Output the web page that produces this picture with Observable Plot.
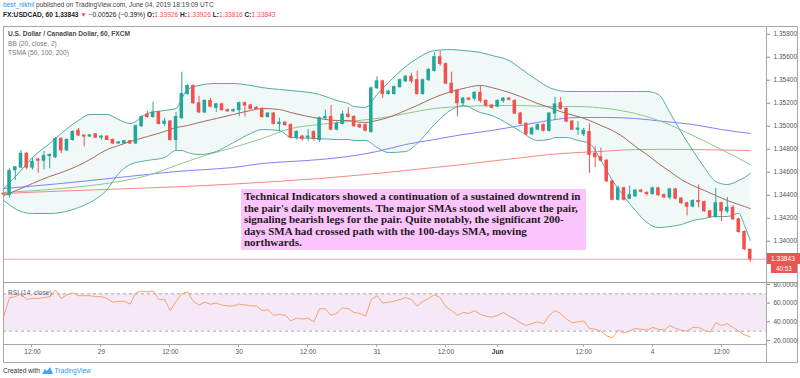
<!DOCTYPE html>
<html><head><meta charset="utf-8">
<script src="https://cdn.jsdelivr.net/npm/d3@7"></script>
<script src="https://cdn.jsdelivr.net/npm/@observablehq/plot@0.6"></script>
<style>
body{margin:0;background:#fff;font-family:"Liberation Sans",Arial,sans-serif;}
#wrap{position:relative;width:800px;height:378px;overflow:hidden;background:#fff;}
.abs{position:absolute;white-space:nowrap;}
.r{color:#ef5350;}
.line{position:absolute;background:#a8a8a8;}
#note{position:absolute;left:241px;top:189px;width:339px;height:57px;padding:2px 3px;background:#fcc4fc;
 font-family:"Liberation Serif","Times New Roman",serif;font-weight:bold;font-size:11px;line-height:11.6px;color:#1c1c1c;white-space:nowrap;}
</style></head><body><div id="wrap"></div>
<script>
// ---------- data ----------
const opens = [1.34415,1.34400,1.34617,1.34640,1.34760,1.34640,1.34710,1.34700,1.34740,1.34730,
1.34890,1.34790,1.34880,1.34960,1.34920,1.34910,1.34930,1.34900,1.34910,1.34880,
1.34850,1.34850,1.34870,1.34850,1.35000,1.35100,1.35080,1.35120,1.35020,1.35040,
1.34880,1.35070,1.35280,1.35350,1.35200,1.35120,1.35220,1.35160,1.35190,1.35140,
1.35130,1.35140,1.35200,1.35180,1.35160,1.35150,1.35080,1.35110,1.35020,1.35030,
1.35010,1.34900,1.34910,1.34900,1.34950,1.34880,1.35070,1.35080,1.34970,1.35020,
1.35100,1.35080,1.35010,1.35010,1.34950,1.35330,1.35390,1.35280,1.35280,1.35340,
1.35390,1.35430,1.35400,1.35280,1.35400,1.35480,1.35600,1.35540,1.35370,1.35310,
1.35200,1.35240,1.35240,1.35290,1.35220,1.35180,1.35170,1.35220,1.35240,1.35220,
1.35110,1.35020,1.34930,1.34970,1.35010,1.34960,1.35110,1.35200,1.35150,1.35040,
1.34970,1.34930,1.34950,1.34760,1.34730,1.34700,1.34520,1.34360,1.34460,1.34370,
1.34390,1.34440,1.34420,1.34410,1.34460,1.34400,1.34380,1.34450,1.34370,1.34330,
1.34300,1.34350,1.34340,1.34260,1.34210,1.34330,1.34260,1.34290,1.34190,1.34080,
1.33926];
const highs = [1.34420,1.34630,1.34650,1.34790,1.34770,1.34720,1.34720,1.34780,1.34760,1.34900,
1.34900,1.34890,1.34960,1.34980,1.34920,1.34925,1.34935,1.34920,1.34915,1.34890,
1.34865,1.34875,1.34875,1.35010,1.35090,1.35130,1.35210,1.35130,1.35070,1.35050,
1.35120,1.35470,1.35360,1.35360,1.35260,1.35230,1.35240,1.35200,1.35200,1.35150,
1.35150,1.35210,1.35210,1.35190,1.35170,1.35160,1.35120,1.35120,1.35070,1.35040,
1.35020,1.34960,1.34920,1.34970,1.34960,1.35080,1.35140,1.35180,1.35040,1.35130,
1.35160,1.35090,1.35020,1.35020,1.35340,1.35430,1.35400,1.35310,1.35350,1.35410,
1.35440,1.35460,1.35480,1.35410,1.35500,1.35640,1.35650,1.35550,1.35470,1.35320,
1.35250,1.35250,1.35300,1.35350,1.35230,1.35190,1.35230,1.35250,1.35250,1.35230,
1.35120,1.35030,1.34990,1.35020,1.35020,1.35120,1.35250,1.35250,1.35160,1.35050,
1.35040,1.34980,1.35020,1.34820,1.34810,1.34710,1.34530,1.34480,1.34470,1.34480,
1.34450,1.34450,1.34430,1.34470,1.34470,1.34410,1.34460,1.34460,1.34380,1.34340,
1.34360,1.34490,1.34350,1.34270,1.34460,1.34340,1.34380,1.34310,1.34200,1.34090,
1.33926];
const lows = [1.34395,1.34375,1.34528,1.34630,1.34620,1.34620,1.34590,1.34620,1.34630,1.34720,
1.34760,1.34780,1.34870,1.34910,1.34820,1.34905,1.34895,1.34880,1.34875,1.34840,
1.34845,1.34845,1.34840,1.34840,1.34990,1.35070,1.35070,1.35010,1.35000,1.34870,
1.34790,1.35060,1.35270,1.35190,1.35110,1.35110,1.35160,1.35120,1.35130,1.35120,
1.35120,1.35080,1.35080,1.35140,1.35140,1.35070,1.35070,1.35010,1.34950,1.35000,
1.34890,1.34880,1.34870,1.34870,1.34870,1.34860,1.35060,1.34960,1.34960,1.35010,
1.35070,1.34990,1.34980,1.34950,1.34940,1.35320,1.35240,1.35270,1.35270,1.35330,
1.35380,1.35370,1.35270,1.35270,1.35390,1.35470,1.35520,1.35360,1.35280,1.35080,
1.35180,1.35220,1.35220,1.35200,1.35160,1.35150,1.35160,1.35200,1.35220,1.35100,
1.35010,1.34920,1.34920,1.34960,1.34950,1.34950,1.35050,1.35140,1.35030,1.34960,
1.34920,1.34910,1.34590,1.34640,1.34690,1.34510,1.34350,1.34350,1.34350,1.34360,
1.34380,1.34420,1.34390,1.34400,1.34390,1.34370,1.34360,1.34360,1.34320,1.34220,
1.34290,1.34290,1.34250,1.34200,1.34200,1.34170,1.34240,1.34180,1.34070,1.33920,
1.33816];
const closes = [1.34405,1.34612,1.34643,1.34760,1.34640,1.34690,1.34700,1.34740,1.34750,1.34890,
1.34790,1.34880,1.34950,1.34920,1.34910,1.34920,1.34900,1.34910,1.34880,1.34850,
1.34860,1.34870,1.34850,1.35000,1.35080,1.35080,1.35120,1.35020,1.35040,1.34880,
1.35080,1.35280,1.35350,1.35200,1.35120,1.35220,1.35170,1.35190,1.35140,1.35130,
1.35140,1.35200,1.35180,1.35150,1.35150,1.35080,1.35110,1.35020,1.35030,1.35010,
1.34900,1.34950,1.34890,1.34910,1.34890,1.35070,1.35080,1.34970,1.35020,1.35100,
1.35080,1.35000,1.34990,1.34960,1.35330,1.35390,1.35280,1.35300,1.35340,1.35400,
1.35430,1.35390,1.35280,1.35400,1.35490,1.35600,1.35540,1.35370,1.35290,1.35200,
1.35240,1.35230,1.35290,1.35220,1.35180,1.35160,1.35220,1.35240,1.35230,1.35110,
1.35020,1.34930,1.34980,1.35010,1.34960,1.35110,1.35190,1.35150,1.35040,1.34970,
1.34980,1.34960,1.34750,1.34730,1.34700,1.34520,1.34360,1.34460,1.34360,1.34400,
1.34440,1.34430,1.34410,1.34460,1.34400,1.34380,1.34450,1.34370,1.34330,1.34300,
1.34350,1.34340,1.34260,1.34210,1.34330,1.34260,1.34290,1.34190,1.34080,1.33930,
1.33843];

// Bollinger Bands (20, close, 2) at these bar indices
const bandIdx = [0,3,5,8,10,13,15,18,20,22,25,28,30,31,32,34,37,40,43,45,48,50,55,58,60,61,63,65,67,70,72,75,78,80,83,85,88,90,93,95,96,98,100,102,104,106,108,110,112,114,116,118,120,122,124,126,128,129,130];
const bbUpper = [1.34458,1.34615,1.34728,1.34850,1.34937,1.35050,1.35102,1.35102,1.35058,1.35023,1.35110,1.35137,1.35154,1.35241,1.35319,1.35354,1.35371,1.35371,1.35354,1.35336,1.35319,1.35310,1.35276,1.35223,1.35197,1.35171,1.35163,1.35276,1.35380,1.35519,1.35589,1.35658,1.35667,1.35658,1.35641,1.35615,1.35571,1.35502,1.35397,1.35336,1.35319,1.35302,1.35302,1.35302,1.35302,1.35302,1.35302,1.35302,1.35302,1.35276,1.35119,1.34945,1.34789,1.34641,1.34519,1.34493,1.34528,1.34554,1.34589];
const bbLower = [1.34354,1.34258,1.34241,1.34241,1.34250,1.34293,1.34337,1.34450,1.34589,1.34667,1.34702,1.34728,1.34789,1.34789,1.34771,1.34754,1.34780,1.34858,1.34937,1.34971,1.34963,1.34902,1.34893,1.34884,1.34884,1.34876,1.34876,1.34815,1.34771,1.34780,1.34850,1.35015,1.35145,1.35180,1.35119,1.35093,1.35015,1.34954,1.34876,1.34884,1.34902,1.34902,1.34876,1.34850,1.34702,1.34528,1.34389,1.34267,1.34163,1.34119,1.34128,1.34145,1.34180,1.34197,1.34215,1.34215,1.34241,1.34137,1.34006];
const bbBasis = [1.34397,1.34458,1.34502,1.34563,1.34597,1.34658,1.34710,1.34797,1.34832,1.34867,1.34910,1.34954,1.34989,1.34997,1.35006,1.35032,1.35067,1.35102,1.35137,1.35154,1.35145,1.35119,1.35067,1.35050,1.35050,1.35041,1.35032,1.35050,1.35076,1.35137,1.35180,1.35250,1.35302,1.35328,1.35354,1.35336,1.35293,1.35258,1.35197,1.35163,1.35145,1.35110,1.35084,1.35050,1.35006,1.34963,1.34902,1.34823,1.34754,1.34676,1.34606,1.34536,1.34484,1.34441,1.34397,1.34354,1.34319,1.34302,1.34284];

// TSMA (50, 100, 200) at these bar indices
const smaIdx = [0,10,20,25,30,35,40,45,50,55,60,65,70,75,80,85,90,95,100,105,110,115,120,125,130];
const sma50  = [1.34423,1.34458,1.34519,1.34571,1.34658,1.34745,1.34815,1.34893,1.34980,1.35015,1.35041,1.35067,1.35110,1.35154,1.35171,1.35180,1.35180,1.35171,1.35171,1.35154,1.35110,1.35032,1.34919,1.34797,1.34667];
const sma100 = [1.34458,1.34502,1.34554,1.34580,1.34606,1.34623,1.34641,1.34676,1.34693,1.34710,1.34737,1.34780,1.34841,1.34884,1.34928,1.34963,1.35006,1.35050,1.35076,1.35076,1.35067,1.35041,1.35015,1.34971,1.34937];
const sma200 = [1.34415,1.34436,1.34454,1.34463,1.34473,1.34484,1.34497,1.34512,1.34528,1.34545,1.34567,1.34589,1.34615,1.34641,1.34667,1.34697,1.34725,1.34754,1.34771,1.34784,1.34797,1.34799,1.34797,1.34793,1.34789];

// RSI (14, close)
const rsi = [46,66,67,70,64,65,65,66,67,74,65,69,71,68,68,68,67,67,65,61,62,62,59,71,73,72,73,64,64,52,
62,70,72,62,58,61,59,60,58,57,57,59,58,57,57,52,53,47,48,47,41,44,43,44,40,54,54,47,49,55,
54,50,49,46,64,68,60,61,62,64,66,64,57,62,65,69,66,56,52,47,50,49,52,48,46,45,47,50,46,43,
39,36,38,40,38,47,52,49,43,39,40,41,33,32,30,25,23,31,28,30,33,32,31,34,32,31,36,33,31,30,
34,34,31,29,39,36,38,34,30,26,24];
const rsiBand = [{lo: 30, hi: 70}];
const rsiLevels = [30, 70];
const rsiTicks = [20, 40, 60, 80];

const priceTicks = [1.340,1.342,1.344,1.346,1.348,1.350,1.352,1.354,1.356,1.358];
const lastPrice = 1.33843;
const timeTickIdx = [5,17,29,41,53,65,77,86,101,113,125];
const timeTickLabels = ["12:00","29","12:00","30","12:00","31","12:00","Jun","12:00","4","12:00"];

// ---------- build ----------
const GREEN = "#26a69a", RED = "#ef5350";
const candles = opens.map((o, i) => ({i, o, h: highs[i], l: lows[i], c: closes[i]}));
const bands = bandIdx.map((i, k) => ({i, up: bbUpper[k], lo: bbLower[k], mid: bbBasis[k]}));
const smas = smaIdx.map((i, k) => ({i, s50: sma50[k], s100: sma100[k], s200: sma200[k]}));
const rsiData = rsi.map((v, i) => ({i, v}));
const ticks = timeTickIdx.map((i, k) => ({i, label: timeTickLabels[k]}));
const colorOf = d => d.c >= d.o ? GREEN : RED;

const X_DOMAIN = [-0.05, 132.83];
const FONT = "'Liberation Sans', Arial, sans-serif";
const wrap = document.getElementById("wrap");

const main = Plot.plot({
  width: 800, height: 256,
  marginLeft: 3, marginRight: 34, marginTop: 0, marginBottom: 0,
  x: {domain: X_DOMAIN, axis: null},
  y: {domain: [1.33641, 1.35867], axis: null},
  color: {type: "identity"},
  style: {background: "transparent", fontFamily: FONT, fontSize: "6.5px", overflow: "visible"},
  marks: [
    Plot.areaY(bands, {x: "i", y1: "lo", y2: "up", fill: "#26a69a", fillOpacity: 0.07, curve: "monotone-x"}),
    Plot.line(smas, {x: "i", y: "s200", stroke: "#f28b85", strokeWidth: 1, curve: "monotone-x"}),
    Plot.line(smas, {x: "i", y: "s100", stroke: "#8080ff", strokeWidth: 1, curve: "monotone-x"}),
    Plot.line(smas, {x: "i", y: "s50", stroke: "#8cc98c", strokeWidth: 1, curve: "monotone-x"}),
    Plot.line(bands, {x: "i", y: "up", stroke: "#55aaa6", strokeWidth: 1, curve: "monotone-x"}),
    Plot.line(bands, {x: "i", y: "lo", stroke: "#55aaa6", strokeWidth: 1, curve: "monotone-x"}),
    Plot.line(bands, {x: "i", y: "mid", stroke: "#a86760", strokeWidth: 1, curve: "monotone-x"}),
    Plot.ruleY([lastPrice], {stroke: "#f4a3a0", strokeWidth: 1}),
    Plot.ruleX(candles, {x: "i", y1: "l", y2: "h", stroke: colorOf, strokeWidth: 1}),
    Plot.rect(candles, {x1: d => d.i - 0.31, x2: d => d.i + 0.31, y1: "o", y2: "c", fill: colorOf, insetTop: -0.5, insetBottom: -0.5}),
    Plot.axisY({anchor: "right", ticks: priceTicks, tickFormat: d3.format(".5f"), tickSize: 3, tickPadding: 4, stroke: "#888", fill: "#555", fontSize: 6.5, label: null})
  ]
});
main.style.position = "absolute"; main.style.left = "0px"; main.style.top = "26px";
wrap.appendChild(main);

const rsiPlot = Plot.plot({
  width: 800, height: 80,
  marginLeft: 3, marginRight: 34, marginTop: 0, marginBottom: 18,
  x: {domain: X_DOMAIN, axis: null},
  y: {domain: [15.71, 82.14], axis: null},
  style: {background: "transparent", fontFamily: FONT, fontSize: "6.5px", overflow: "hidden"},
  marks: [
    Plot.rectY(rsiBand, {y1: "lo", y2: "hi", fill: "#9c27b0", fillOpacity: 0.1}),
    Plot.ruleY(rsiLevels, {stroke: "#aaa", strokeDasharray: "3,3", strokeWidth: 1}),
    Plot.line(rsiData, {x: "i", y: "v", stroke: "#f7a06c", strokeWidth: 1}),
    Plot.axisY({anchor: "right", ticks: rsiTicks, tickFormat: d3.format(".4f"), tickSize: 3, tickPadding: 4, stroke: "#888", fill: "#555", fontSize: 6.5, label: null}),
    Plot.text(ticks.filter(d => d.label !== "Jun"), {x: "i", text: "label", frameAnchor: "bottom", dy: 9, fill: "#555", fontSize: 6.5}),
    Plot.text(ticks.filter(d => d.label === "Jun"), {x: "i", text: "label", frameAnchor: "bottom", dy: 9, fill: "#333", fontSize: 6.5, fontWeight: "bold"})
  ]
});
rsiPlot.style.position = "absolute"; rsiPlot.style.left = "0px"; rsiPlot.style.top = "282px";
wrap.appendChild(rsiPlot);

// tick marks under the RSI pane, placed with the plot's own x scale
const xs = rsiPlot.scale("x");
ticks.forEach(t => {
  const d = document.createElement("div");
  d.className = "line"; d.style.left = (xs.apply(t.i) - 0.5) + "px"; d.style.top = "344px"; d.style.width = "1px"; d.style.height = "3px";
  wrap.appendChild(d);
});

// frame lines
function line(l, t, w, h, c) { const d = document.createElement("div"); d.className = "line"; Object.assign(d.style, {left: l + "px", top: t + "px", width: w + "px", height: h + "px"}); if (c) d.style.background = c; wrap.appendChild(d); }
line(3, 26, 795, 1); line(3, 26, 1, 337); line(797, 26, 1, 337); line(3, 362, 795, 1);
line(766, 26, 1, 336); line(3, 282, 795, 1, "#999"); line(3, 344, 763, 1);

// header + legend + footer
wrap.insertAdjacentHTML("beforeend", `
<div class="abs" style="left:3px;top:1px;font-size:6.6px;color:#444"><span style="color:#2196f3">best_nikhil</span> published on TradingView.com, June 04, 2019 18:19:09 UTC</div>
<div class="abs" style="left:3px;top:11px;font-size:6.6px;color:#222"><b>FX:USDCAD, 60</b> <b>1.33843</b> <span class="r">▼</span> −0.00526 (−0.39%) <b>O:</b><span class="r">1.33926</span> <b>H:</b><span class="r">1.33926</span> <b>L:</b><span class="r">1.33816</span> <b>C:</b><span class="r">1.33843</span></div>
<div class="abs" style="left:8px;top:30px;font-size:6.6px;color:#4a4a4a;font-weight:bold">U.S. Dollar / Canadian Dollar, 60, FXCM</div>
<div class="abs" style="left:8px;top:39.5px;font-size:6.6px;color:#777">BB (20, close, 2)</div>
<div class="abs" style="left:8px;top:49px;font-size:6.6px;color:#777">TSMA (50, 100, 200)</div>
<div class="abs" style="left:8px;top:289px;font-size:6.6px;color:#666">RSI (14, close)</div>
<div id="note">Technical Indicators showed a continuation of a sustained downtrend in<br>the pair's daily movements. The major SMAs stood well above the pair,<br>signaling bearish legs for the pair. Quite notably, the significant 200-<br>days SMA had crossed path with the 100-days SMA, moving<br>northwards.</div>
<div class="abs" style="left:3px;top:367px;font-size:6.6px;color:#333">Created with <svg width="11" height="7" viewBox="0 0 11 7" style="vertical-align:-1px"><path d="M0 7 L3 2 L5 4 L8 0 L11 7 Z" fill="#42a5f5"/></svg> <span style="color:#2196f3">TradingView</span></div>
`);

// last price labels
const yPx = 26 + main.scale("y").apply(lastPrice);
wrap.insertAdjacentHTML("beforeend", `
<div class="abs" style="left:767px;top:${yPx - 5.5}px;width:33px;height:11px;background:#ef5350;color:#fff;font-size:6.6px;line-height:11px;padding-left:4px;box-sizing:border-box">1.33843</div>
<div class="abs" style="left:771px;top:${yPx + 5.5}px;width:26px;height:9px;background:#ef5350;color:#fff;font-size:6.3px;line-height:9px;text-align:center">40:53</div>
`);
</script></body></html>
